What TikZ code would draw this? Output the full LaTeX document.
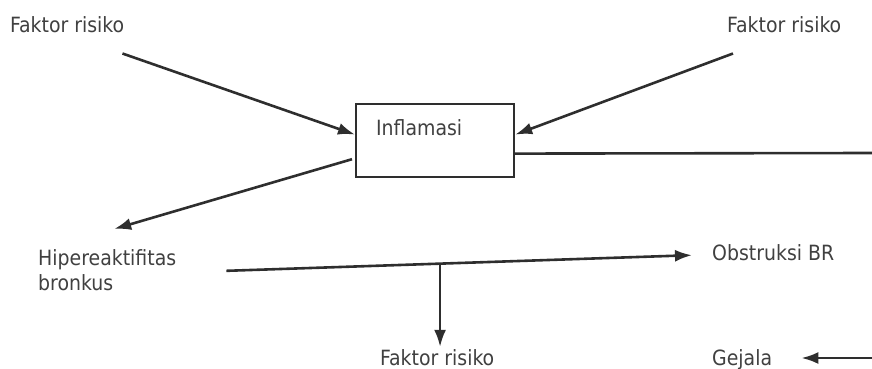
\documentclass[tikz,border=0pt]{standalone}
\usepackage{fontspec}
\setmainfont{DejaVu Sans Condensed}
\usetikzlibrary{calc}
\usetikzlibrary{arrows.meta}
\definecolor{ink}{HTML}{2E2E2E}
\definecolor{inktext}{HTML}{404040}
\tikzset{
  box/.style={draw=ink, line width=2.2pt, inner xsep=20pt, inner ysep=0pt,
    text width=118pt, align=left, text height=31pt, text depth=42pt},
}

\begin{document}
\begin{tikzpicture}[
  x=1pt, y=-1pt,
  txt/.style={inner sep=0pt, align=left, text=inktext, font=\fontsize{21}{25}\selectfont},
  link/.style={draw=ink, line width=2.6pt, -{Latex[length=17pt, width=12pt]}},
  plain/.style={draw=ink, line width=2.6pt}
]
\useasboundingbox (0,0) rectangle (872,369);

% Risk factors and inflammation
\node[txt, anchor=base west] (risk1) at (10, 33) {Faktor risiko};
\node[txt, anchor=base west] (risk2) at (727, 33) {Faktor risiko};
\node[box, txt, inner xsep=20pt, anchor=north west] (infl) at (355, 103) {Inflamasi};
\draw[link] ([xshift=-2pt, yshift=-20pt]risk1.south east) to ([yshift=6pt]infl.west);
\draw[link] ([xshift=6pt, yshift=-20pt]risk2.south west) to ([yshift=6pt]infl.east);

% Outgoing line to the right
\coordinate (rightA) at (872, 153);
\draw[plain] ([yshift=-13pt]infl.east) -- (rightA);

% Hyperreactivity and obstruction
\node[txt, anchor=north west] (hiper) at (38, 249) {Hipereaktifitas\\bronkus};
\node[txt, anchor=base west] (obs) at (712, 260) {Obstruksi BR};
\draw[link] ([xshift=-3pt, yshift=19pt]infl.south west) to ([xshift=7pt, yshift=20pt]hiper.north);
\coordinate (hb) at ([xshift=50pt, yshift=-1pt]hiper.east);
\coordinate (split) at ($(hb)!.459!([xshift=-20pt, yshift=-3pt]obs.west)$);
\draw[link] (hb) to ([xshift=-20pt, yshift=-3pt]obs.west);

% Lower row
\node[txt, anchor=base west] (risk3) at (380, 365) {Faktor risiko};
\node[txt, anchor=base west] (gejala) at (712, 365) {Gejala};
\draw[link] (split) to ([yshift=2pt]split |- risk3.north);
\coordinate (rightB) at (872, 358);
\draw[link] (rightB) to ([xshift=29pt]gejala.east |- rightB);
\end{tikzpicture}
\end{document}
